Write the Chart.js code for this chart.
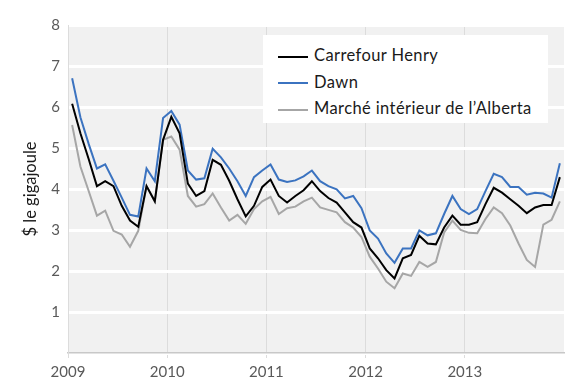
<!DOCTYPE html>
<html>
<head>
    <title>Prix du gaz naturel</title>
    <script src="https://cdn.jsdelivr.net/npm/chart.js"></script>
    <style>
        body {
            margin: 0;
            background: white;
            font-family: Lato, sans-serif;
        }
        .wrap {
            position: relative;
            width: 580px;
            height: 392px;
        }
        .legend {
            position: absolute;
            left: 263px;
            top: 35px;
            width: 285px;
            height: 88px;
            background: white;
            box-sizing: border-box;
            padding-top: 7px;
        }
        .legend div {
            height: 26.5px;
            line-height: 26px;
            font-size: 16.5px;
            letter-spacing: 0.4px;
            color: #1a1a1a;
            white-space: nowrap;
        }
        .legend span {
            display: inline-block;
            width: 30px;
            height: 2px;
            vertical-align: middle;
            margin: 0 6px 0 15px;
        }
    </style>
</head>
<body>
<div class="wrap">
    <canvas id="chart" width="580" height="392"></canvas>
    <div class="legend" id="legend"></div>
</div>
<script>
    // monthly prices, Jan 2009 .. Dec 2013 ($ per GJ)
    const yearLabels = ['2009', '2010', '2011', '2012', '2013'];
    const seriesNames = ['Carrefour Henry', 'Dawn', 'Marché intérieur de l’Alberta'];
    const seriesColors = ['#000000', '#3b73c0', '#a6a6a6'];

    const henry = [
        6.08, 5.36, 4.73, 4.07, 4.19, 4.07, 3.59, 3.23, 3.08, 4.07, 3.70, 5.20,
        5.76, 5.36, 4.13, 3.83, 3.95, 4.71, 4.59, 4.20, 3.75, 3.33, 3.59, 4.05,
        4.23, 3.83, 3.67, 3.83, 3.97, 4.19, 3.95, 3.78, 3.67, 3.43, 3.19, 3.06,
        2.55, 2.31, 2.02, 1.82, 2.31, 2.39, 2.86, 2.67, 2.65, 3.06, 3.35, 3.13,
        3.13, 3.19, 3.63, 4.03, 3.91, 3.75, 3.59, 3.41, 3.55, 3.61, 3.61, 4.29
    ];
    const dawn = [
        6.70, 5.75, 5.10, 4.50, 4.60, 4.20, 3.79, 3.37, 3.33, 4.50, 4.19, 5.73,
        5.90, 5.57, 4.45, 4.23, 4.26, 4.98, 4.77, 4.50, 4.19, 3.83, 4.29, 4.45,
        4.60, 4.23, 4.17, 4.21, 4.31, 4.45, 4.19, 4.07, 3.99, 3.77, 3.83, 3.53,
        2.99, 2.79, 2.43, 2.20, 2.55, 2.55, 2.99, 2.87, 2.92, 3.39, 3.83, 3.51,
        3.39, 3.51, 3.95, 4.37, 4.29, 4.05, 4.05, 3.86, 3.91, 3.89, 3.79, 4.63
    ];
    const alberta = [
        5.56, 4.55, 3.95, 3.35, 3.47, 2.98, 2.89, 2.59, 2.98, 4.07, 3.70, 5.20,
        5.28, 4.96, 3.83, 3.57, 3.63, 3.89, 3.55, 3.23, 3.37, 3.15, 3.51, 3.70,
        3.81, 3.39, 3.53, 3.57, 3.70, 3.79, 3.55, 3.49, 3.43, 3.19, 3.06, 2.83,
        2.35, 2.06, 1.74, 1.58, 1.94, 1.88, 2.22, 2.10, 2.22, 2.94, 3.23, 3.00,
        2.93, 2.92, 3.27, 3.55, 3.41, 3.11, 2.67, 2.27, 2.10, 3.13, 3.25, 3.70
    ];

    // each month sits in the middle of its slot on a month-count axis
    const toPoints = vals => vals.map((v, i) => ({ x: i + 0.5, y: v }));

    const legend = document.getElementById('legend');
    seriesNames.forEach((name, i) => {
        const row = document.createElement('div');
        row.innerHTML = '<span style="background:' + seriesColors[i] + '"></span>' + name;
        legend.appendChild(row);
    });

    const plotBg = {
        id: 'plotBg',
        beforeDraw(chart) {
            const a = chart.chartArea;
            const c = chart.ctx;
            c.save();
            c.fillStyle = '#f1f1f1';
            c.fillRect(a.left, a.top, a.right - a.left, a.bottom - a.top);
            c.restore();
        }
    };

    const tickFont = { family: 'Lato, sans-serif', size: 15 };

    new Chart(document.getElementById('chart'), {
        type: 'line',
        data: {
            datasets: [henry, dawn, alberta].map((vals, i) => ({
                label: seriesNames[i],
                data: toPoints(vals),
                borderColor: seriesColors[i],
                borderWidth: 2,
                pointRadius: 0,
                tension: 0
            }))
        },
        options: {
            responsive: false,
            animation: false,
            layout: { padding: { top: 25, right: 16, left: 0, bottom: 0 } },
            plugins: {
                legend: { display: false },
                tooltip: { enabled: false }
            },
            scales: {
                x: {
                    type: 'linear',
                    min: 0,
                    max: 60,
                    afterFit: s => { s.height = 39; },
                    afterBuildTicks: s => {
                        s.ticks = [0, 12, 24, 36, 48, 60].map(v => ({ value: v }));
                    },
                    ticks: {
                        autoSkip: false,
                        maxRotation: 0,
                        color: '#595959',
                        font: tickFont,
                        padding: 5,
                        callback: v => yearLabels[v / 12] || ''
                    },
                    grid: {
                        color: ctx => ctx.tick && ctx.tick.value === 60 ? 'rgba(0,0,0,0)' : '#dcdcdc',
                        lineWidth: 1,
                        tickLength: 5
                    },
                    border: { color: '#c8c8c8', width: 1.5 }
                },
                y: {
                    min: 0,
                    max: 8,
                    afterFit: s => { s.width = 68; },
                    ticks: {
                        stepSize: 1,
                        color: '#595959',
                        font: tickFont,
                        padding: 8,
                        callback: v => v === 0 ? '' : v
                    },
                    grid: {
                        color: '#ffffff',
                        lineWidth: 3,
                        drawTicks: false
                    },
                    border: { color: '#dcdcdc', width: 1 },
                    title: {
                        display: true,
                        text: '$ le gigajoule',
                        color: '#1a1a1a',
                        font: { family: 'Lato, sans-serif', size: 16.5 },
                        padding: { top: 21, bottom: 4 }
                    }
                }
            }
        },
        plugins: [plotBg]
    });
</script>
</body>
</html>
